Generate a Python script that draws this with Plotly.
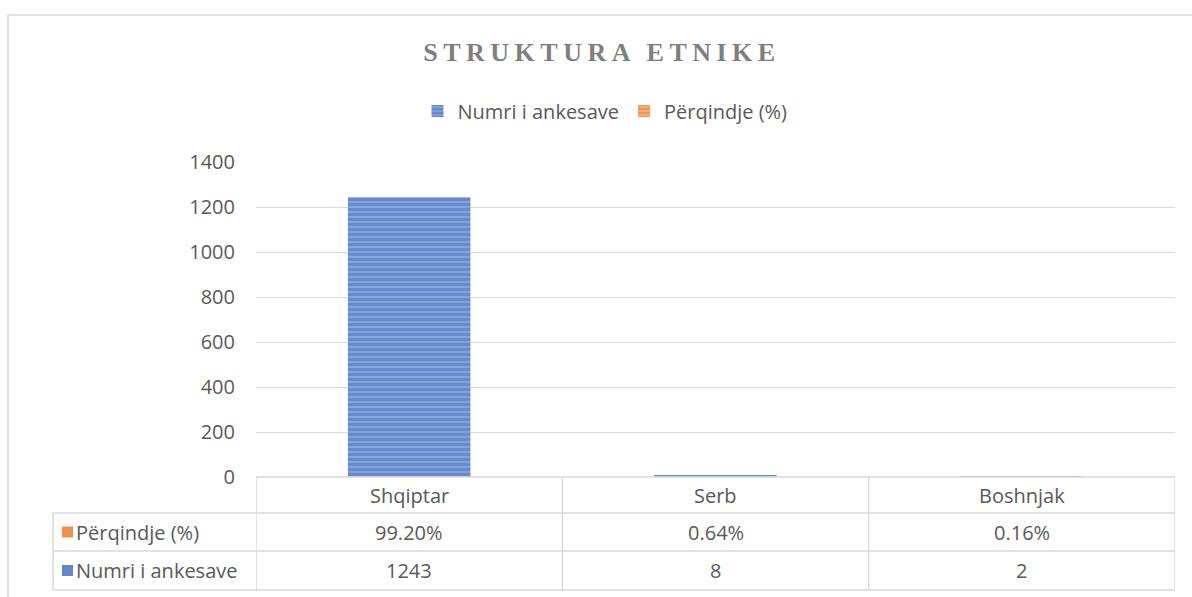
import plotly.graph_objects as go

# ---------------- data ----------------
categories = ["Shqiptar", "Serb", "Boshnjak"]
numri = [1243, 8, 2]
perqindje = [0.992, 0.0064, 0.0016]
series_names = ["Numri i ankesave", "Përqindje (%)"]
title_text = "STRUKTURA ETNIKE"
y_ticks = [0, 200, 400, 600, 800, 1000, 1200, 1400]

# ---------------- layout helpers (pixel -> paper) ----------------
W, H = 1192, 597
L, R, T, B = 256, 1175, 162, 477


def px(x):
    return (x - L) / (R - L)


def py(y):
    return (B - y) / (B - T)


BLUE = "#4472C4"
BLUE_LIGHT = "#86A2D8"
ORANGE = "#ED7D31"
ORANGE_LIGHT = "#F4B183"
TXT = "#595959"
GRID = "#D9D9D9"
FONT = "Open Sans"
FS = 20

fig = go.Figure()
fig.add_trace(go.Bar(
    x=categories, y=numri, name=series_names[0], width=0.4,
    marker=dict(color=BLUE_LIGHT, line=dict(width=0),
                pattern=dict(shape="-", fgcolor=BLUE, bgcolor=BLUE_LIGHT,
                             size=5, solidity=0.6, fillmode="overlay")),
))
fig.add_trace(go.Bar(
    x=categories, y=perqindje, name=series_names[1], width=0.4,
    marker=dict(color=ORANGE_LIGHT, line=dict(width=0),
                pattern=dict(shape="-", fgcolor=ORANGE, bgcolor=ORANGE_LIGHT,
                             size=5, solidity=0.6, fillmode="overlay")),
))

shapes = []
annotations = []
line = dict(color=GRID, width=1.5)

# outer chart frame
shapes.append(dict(type="rect", xref="paper", yref="paper",
                   x0=px(8), x1=px(1215), y0=py(620), y1=py(15),
                   line=dict(color=GRID, width=1.5), fillcolor="rgba(0,0,0,0)", layer="below"))

# data table rows (pixel y of boundaries)
row_top, row1, row2, row_bot = 477, 513, 551, 590
left_x = 53
n = len(categories)
shapes.append(dict(type="line", xref="paper", yref="paper", x0=0, x1=1, y0=py(row_top), y1=py(row_top), line=line))
for yy in (row1, row2, row_bot):
    shapes.append(dict(type="line", xref="paper", yref="paper", x0=px(left_x), x1=1, y0=py(yy), y1=py(yy), line=line))
for i in range(n + 1):
    shapes.append(dict(type="line", xref="x", yref="paper", x0=i - 0.5, x1=i - 0.5,
                       y0=py(row_top), y1=py(row_bot), line=line))
shapes.append(dict(type="line", xref="paper", yref="paper", x0=px(left_x), x1=px(left_x),
                   y0=py(row1), y1=py(row_bot), line=line))

row_y = {"head": (row_top + row1) / 2, "pct": (row1 + row2) / 2, "num": (row2 + row_bot) / 2}
tfont = dict(family=FONT, size=FS, color=TXT)
for i, c in enumerate(categories):
    annotations.append(dict(x=c, xref="x", y=py(row_y["head"]), yref="paper", text=c,
                            xanchor="center", yanchor="middle", showarrow=False, font=tfont))
    annotations.append(dict(x=c, xref="x", y=py(row_y["pct"]), yref="paper",
                            text=f"{perqindje[i] * 100:.2f}%",
                            xanchor="center", yanchor="middle", showarrow=False, font=tfont))
    annotations.append(dict(x=c, xref="x", y=py(row_y["num"]), yref="paper", text=str(numri[i]),
                            xanchor="center", yanchor="middle", showarrow=False, font=tfont))

# left column labels with legend keys
for key, name, col in (("pct", series_names[1], ORANGE), ("num", series_names[0], BLUE)):
    yc = row_y[key]
    shapes.append(dict(type="rect", xref="paper", yref="paper", x0=px(62), x1=px(73),
                       y0=py(yc + 5.5), y1=py(yc - 5.5), line=dict(width=0), fillcolor=col, opacity=0.85))
    annotations.append(dict(x=px(74), xref="paper", y=py(yc), yref="paper", text=name,
                            xanchor="left", yanchor="middle", showarrow=False, font=tfont))

fig.update_layout(
    width=W, height=H,
    margin=dict(l=L, r=W - R, t=T, b=H - B),
    paper_bgcolor="white", plot_bgcolor="white",
    barmode="overlay",
    title=dict(text=f"<b>{title_text}</b>", x=0.505, xanchor="center", y=1 - 52 / H, yanchor="middle",
               font=dict(family="Liberation Serif", size=26, color="#7F7F7F")),
    legend=dict(orientation="h", x=px(605), xanchor="center", y=py(111), yanchor="middle",
                font=dict(family=FONT, size=FS, color=TXT), itemwidth=30, traceorder="normal"),
    xaxis=dict(range=[-0.5, n - 0.5], showticklabels=False, showgrid=False, zeroline=False,
               showline=False, fixedrange=True),
    yaxis=dict(range=[0, 1400], tickvals=y_ticks, showgrid=True, gridcolor=GRID, gridwidth=1.3,
               zeroline=False, showline=False, ticks="", ticklabelstandoff=20,
               tickfont=dict(family=FONT, size=FS, color=TXT)),
    shapes=shapes, annotations=annotations,
)

post = """
document.body.style.margin = '0';
document.documentElement.style.margin = '0';
var t = document.querySelectorAll('.gtitle');
t.forEach(function(e){ e.setAttribute('letter-spacing','5.5px'); e.style.letterSpacing='5.5px'; });
"""
fig.write_html("out.html", post_script=post, config={"displayModeBar": False})
